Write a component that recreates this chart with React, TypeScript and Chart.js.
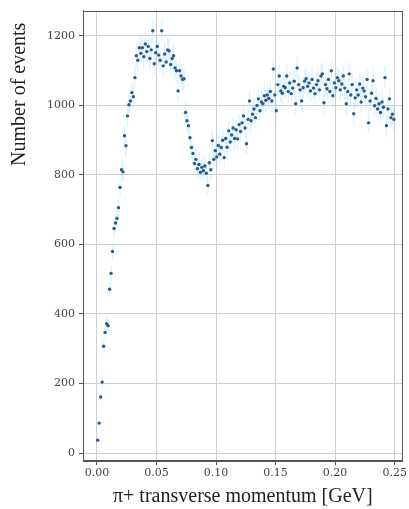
import React, { useEffect, useRef } from "react";
import { Chart, registerables } from "chart.js";

Chart.register(...registerables);

// Bin centres of the pi+ transverse momentum histogram [GeV]
const momentum: number[] = [
  0.000625, 0.001875, 0.003125, 0.004375, 0.005625, 0.006875, 0.008125, 0.009375,
  0.010625, 0.011875, 0.013125, 0.014375, 0.015625, 0.016875, 0.018125, 0.019375,
  0.020625, 0.021875, 0.023125, 0.024375, 0.025625, 0.026875, 0.028125, 0.029375,
  0.030625, 0.031875, 0.033125, 0.034375, 0.035625, 0.036875, 0.038125, 0.039375,
  0.040625, 0.041875, 0.043125, 0.044375, 0.045625, 0.046875, 0.048125, 0.049375,
  0.050625, 0.051875, 0.053125, 0.054375, 0.055625, 0.056875, 0.058125, 0.059375,
  0.060625, 0.061875, 0.063125, 0.064375, 0.065625, 0.066875, 0.068125, 0.069375,
  0.070625, 0.071875, 0.073125, 0.074375, 0.075625, 0.076875, 0.078125, 0.079375,
  0.080625, 0.081875, 0.083125, 0.084375, 0.085625, 0.086875, 0.088125, 0.089375,
  0.090625, 0.091875, 0.093125, 0.094375, 0.095625, 0.096875, 0.098125, 0.099375,
  0.100625, 0.101875, 0.103125, 0.104375, 0.105625, 0.106875, 0.108125, 0.109375,
  0.110625, 0.111875, 0.113125, 0.114375, 0.115625, 0.116875, 0.118125, 0.119375,
  0.120625, 0.121875, 0.123125, 0.124375, 0.125625, 0.126875, 0.128125, 0.129375,
  0.130625, 0.131875, 0.133125, 0.134375, 0.135625, 0.136875, 0.138125, 0.139375,
  0.140625, 0.141875, 0.143125, 0.144375, 0.145625, 0.146875, 0.148125, 0.149375,
  0.150625, 0.151875, 0.153125, 0.154375, 0.155625, 0.156875, 0.158125, 0.159375,
  0.160625, 0.161875, 0.163125, 0.164375, 0.165625, 0.166875, 0.168125, 0.169375,
  0.170625, 0.171875, 0.173125, 0.174375, 0.175625, 0.176875, 0.178125, 0.179375,
  0.180625, 0.181875, 0.183125, 0.184375, 0.185625, 0.186875, 0.188125, 0.189375,
  0.190625, 0.191875, 0.193125, 0.194375, 0.195625, 0.196875, 0.198125, 0.199375,
  0.200625, 0.201875, 0.203125, 0.204375, 0.205625, 0.206875, 0.208125, 0.209375,
  0.210625, 0.211875, 0.213125, 0.214375, 0.215625, 0.216875, 0.218125, 0.219375,
  0.220625, 0.221875, 0.223125, 0.224375, 0.225625, 0.226875, 0.228125, 0.229375,
  0.230625, 0.231875, 0.233125, 0.234375, 0.235625, 0.236875, 0.238125, 0.239375,
  0.240625, 0.241875, 0.243125, 0.244375, 0.245625, 0.246875, 0.248125, 0.249375,
];

// Number of events per bin
const events: number[] = [
  37, 86, 161, 204, 307, 347, 372, 366,
  471, 517, 580, 646, 662, 675, 706, 764,
  815, 809, 913, 884, 970, 1002, 1013, 1037,
  1025, 1080, 1143, 1130, 1166, 1150, 1166, 1140,
  1177, 1155, 1170, 1135, 1160, 1215, 1120, 1152,
  1170, 1145, 1130, 1215, 1114, 1148, 1125, 1160,
  1157, 1118, 1135, 1143, 1108, 1100, 1042, 1100,
  1085, 1075, 1077, 980, 956, 942, 907, 879,
  862, 833, 845, 818, 830, 808, 822, 812,
  826, 805, 770, 835, 815, 899, 845, 870,
  852, 885, 860, 879, 900, 850, 905, 880,
  927, 895, 915, 935, 905, 930, 904, 945,
  925, 950, 970, 935, 890, 960, 1013, 956,
  975, 990, 965, 1000, 1019, 985, 1010, 1005,
  1028, 1015, 1030, 1020, 1040, 1013, 1105, 1030,
  985, 1060, 1085, 1042, 1035, 1055, 1051, 1085,
  1040, 1065, 1034, 1050, 1070, 1005, 1108, 1060,
  1045, 1013, 1051, 1070, 1077, 1055, 1065, 1042,
  1075, 1050, 1034, 1060, 1071, 1045, 1085, 1091,
  1008, 1060, 1048, 1075, 1040, 1100, 1028, 1065,
  1051, 1080, 1071, 1045, 1062, 1085, 1050, 1005,
  1040, 1091, 1030, 1060, 976, 1022, 1045, 1030,
  1062, 1010, 1050, 1042, 1025, 1075, 950, 1013,
  1035, 1071, 999, 1020, 990, 1005, 980, 1010,
  995, 1080, 942, 990, 1019, 965, 975, 960,
];

const xTicks: number[] = [0, 0.05, 0.1, 0.15, 0.2, 0.25];
const yTicks: number[] = [0, 200, 400, 600, 800, 1000, 1200];

const xTitle = "\u03c0+ transverse momentum [GeV]";
const yTitle = "Number of events";

const TITLE_FONT = "20px 'Liberation Serif', 'Times New Roman', serif";

const errorBars = {
  id: "errorBars",
  beforeDatasetsDraw(chart: any) {
    const { ctx, chartArea, scales } = chart;
    ctx.save();
    ctx.beginPath();
    ctx.rect(chartArea.left, chartArea.top, chartArea.right - chartArea.left, chartArea.bottom - chartArea.top);
    ctx.clip();
    ctx.strokeStyle = "rgba(120, 200, 240, 0.22)";
    ctx.lineWidth = 1.5;
    for (let i = 0; i < events.length; i++) {
      const v = events[i];
      const err = Math.sqrt(v);
      const px = scales.x.getPixelForValue(momentum[i]);
      ctx.beginPath();
      ctx.moveTo(px, scales.y.getPixelForValue(v - err));
      ctx.lineTo(px, scales.y.getPixelForValue(v + err));
      ctx.stroke();
    }
    ctx.restore();
  },
};

const frameAndTitle = {
  id: "frameAndTitle",
  afterDraw(chart: any) {
    const { ctx, chartArea } = chart;
    ctx.save();
    ctx.strokeStyle = "#555";
    ctx.lineWidth = 1;
    ctx.strokeRect(
      Math.round(chartArea.left) + 0.5,
      Math.round(chartArea.top) + 0.5,
      Math.round(chartArea.right - chartArea.left) - 1,
      Math.round(chartArea.bottom - chartArea.top) - 1
    );
    // y-axis title, placed as in the reference (upper part of the axis)
    ctx.translate(20, chartArea.top + 12);
    ctx.rotate(-Math.PI / 2);
    ctx.font = TITLE_FONT;
    ctx.fillStyle = "#222";
    ctx.textAlign = "right";
    ctx.textBaseline = "middle";
    ctx.fillText(yTitle, 0, 0);
    ctx.restore();
  },
};

export default function App() {
  const ref = useRef<HTMLCanvasElement | null>(null);

  useEffect(() => {
    if (!ref.current) return;
    const tickFont = { family: "'DejaVu Serif', serif", size: 11 };
    const titleFont = { family: "'Liberation Serif', 'Times New Roman', serif", size: 20 };
    const chart = new Chart(ref.current, {
      type: "scatter",
      data: {
        datasets: [
          {
            label: "events",
            data: momentum.map((x, i) => ({ x, y: events[i] })),
            backgroundColor: "#2e5b84",
            borderWidth: 0,
            pointRadius: 1.7,
          },
        ],
      },
      options: {
        responsive: false,
        animation: false,
        events: [],
        layout: { padding: { top: 10, right: 4, left: 0, bottom: 0 } },
        plugins: {
          legend: { display: false },
          tooltip: { enabled: false },
        },
        scales: {
          x: {
            type: "linear",
            min: -0.0117,
            max: 0.2567,
            afterBuildTicks: (axis: any) => {
              axis.ticks = xTicks.map((value) => ({ value }));
            },
            afterFit: (axis: any) => {
              axis.height = 48;
            },
            ticks: {
              font: tickFont,
              color: "#444",
              padding: 2,
              maxRotation: 0,
              callback: (v: any) => Number(v).toFixed(2),
            },
            grid: { color: "#cfcfcf", lineWidth: 1, tickLength: 4, tickColor: "#555" },
            border: { display: true, color: "#555", width: 1 },
            title: {
              display: true,
              text: xTitle,
              font: titleFont,
              color: "#222",
              padding: { top: 0, bottom: 0 },
            },
          },
          y: {
            type: "linear",
            min: -23,
            max: 1273,
            afterBuildTicks: (axis: any) => {
              axis.ticks = yTicks.map((value) => ({ value }));
            },
            afterFit: (axis: any) => {
              axis.width = 83;
            },
            ticks: {
              font: tickFont,
              color: "#444",
              padding: 4,
              callback: (v: any) => String(v),
            },
            grid: { color: "#cfcfcf", lineWidth: 1, tickLength: 4, tickColor: "#555" },
            border: { display: true, color: "#555", width: 1 },
            title: { display: false, text: yTitle },
          },
        },
      },
      plugins: [errorBars, frameAndTitle],
    });
    return () => chart.destroy();
  }, []);

  return (
    <div style={{ position: "fixed", left: 0, top: 0, width: 409, height: 509, background: "#fff" }}>
      <canvas ref={ref} width={409} height={509} style={{ display: "block" }} />
    </div>
  );
}
